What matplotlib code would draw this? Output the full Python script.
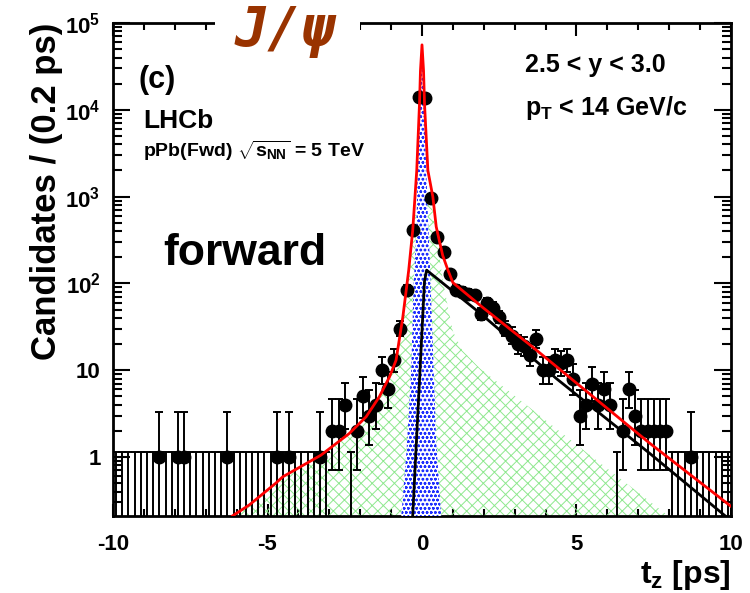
import numpy as np
import matplotlib
matplotlib.use('Agg')
import matplotlib.pyplot as plt
from matplotlib.ticker import FixedLocator, NullFormatter
from matplotlib.patches import Rectangle

plt.rcParams.update({
    'font.family': ['Liberation Sans', 'DejaVu Sans'],
    'font.weight': 'bold',
    'mathtext.fontset': 'custom',
    'mathtext.rm': 'Liberation Sans:bold',
    'mathtext.bf': 'Liberation Sans:bold',
    'mathtext.it': 'Liberation Sans:bold:italic',
    'mathtext.sf': 'Liberation Sans:bold',
    'mathtext.default': 'bf',
    'hatch.linewidth': 0.7,
})

# ---------------- data ----------------
x_range = (-10.0, 10.0)
bin_width = 0.2
counts = ([0, 0, 0, 0, 0, 0, 0, 1, 0, 0, 1, 1, 0, 0, 0, 0, 0, 0, 1, 0,
           0, 0, 0, 0, 0, 0, 1, 0, 1, 0, 0, 0, 0, 1, 0]
          + [2, 2, 4, 0, 2, 5, 3, 4, 10, 6, 13, 30, 85, 410]
          + [14000, 13500, 970, 340, 230, 127, 85, 80, 76, 73, 44, 59, 52,
             41, 30, 25, 20, 19, 15, 23, 10, 10, 13, 12, 13, 8]
          + [3, 4, 7, 4, 6, 4, 0, 2, 6, 3, 2, 2, 2, 2, 2, 0, 0, 0, 1, 0,
             0, 0, 0, 0, 0])

# total fit (red)
red_t = [-6.13, -5.59, -4.73, -4.51, -3.27, -2.35, -1.81, -1.38, -1.05, -0.84,
         -0.62, -0.43, -0.30, -0.17, -0.08, -0.05, 0.0, 0.05, 0.08, 0.19,
         0.35, 0.46, 0.57, 0.67, 0.84, 1.0, 1.96, 3.58, 4.88, 7.37, 10.0]
red_v = [0.21, 0.28, 0.50, 0.59, 1.05, 1.87, 2.9, 4.95, 8.4, 13,
         41, 142, 410, 2000, 12000, 28000, 56000, 28000, 12000, 2000,
         1000, 450, 300, 210, 142, 102, 53, 18.5, 7.7, 1.44, 0.27]
# from-b component (black)
black_t = [-0.30, -0.19, -0.08, 0.08, 0.15, 1.86, 4.35, 7.37, 9.81]
black_v = [0.21, 1.3, 7.7, 105, 142, 46, 8.0, 1.1, 0.21]
# background component (green)
green_t = [-6.13, -5.59, -4.51, -3.27, -2.35, -1.81, -1.38, -1.05, -0.84, -0.62,
           -0.43, -0.30, -0.15, 0.0, 0.15, 0.3, 0.46, 0.57, 0.67, 0.84,
           1.0, 1.3, 1.86, 2.82, 5.1, 8.13]
green_v = [0.21, 0.28, 0.59, 1.05, 1.87, 2.9, 4.95, 8.4, 13, 41,
           140, 380, 900, 1200, 1200, 900, 350, 200, 110, 53,
           28, 17, 10.6, 5.7, 1.3, 0.19]
# prompt component (blue)
blue_t = [-0.67, -0.5, -0.35, -0.27, -0.19, -0.14, -0.08, 0.0, 0.08, 0.14,
          0.19, 0.24, 0.35, 0.46, 0.62]
blue_v = [0.21, 1.2, 10, 100, 340, 2000, 9000, 50000, 9000, 2000,
          600, 240, 20, 1.5, 0.21]

y_min, y_max = 0.209, 1e5
ytick_vals = [1, 10, 1e2, 1e3, 1e4, 1e5]
ytick_labels = ['1', '10', r'$10^{2}$', r'$10^{3}$', r'$10^{4}$', r'$10^{5}$']
xtick_vals = [-10, -5, 0, 5, 10]
xtick_labels = ['-10', '-5', '0', '5', '10']

# ---------------- figure ----------------
fig = plt.figure(figsize=(7.5, 5.93), dpi=100)
ax = fig.add_axes([113 / 750, 1 - 516 / 593, (731 - 113) / 750, (516 - 23) / 593])
ax.set_yscale('log')
ax.set_xlim(*x_range)
ax.set_ylim(y_min, y_max)

n = np.array(counts, dtype=float)
centers = x_range[0] + bin_width / 2 + bin_width * np.arange(len(n))


def poisson_errors(k):
    lo = np.zeros_like(k)
    hi = np.full_like(k, 1.148)
    m = k > 0
    km = k[m]
    lo[m] = km - km * (1 - 1 / (9 * km) - 1 / (3 * np.sqrt(km))) ** 3
    hi[m] = (km + 1) * (1 - 1 / (9 * (km + 1)) + 1 / (3 * np.sqrt(km + 1))) ** 3 - km
    return lo, hi


lo, hi = poisson_errors(n)
nz = n > 0
z = ~nz

# background (green hatch)
ax.fill_between(green_t, 1e-3, green_v, facecolor='none', edgecolor='#8ee88e',
                hatch='xxx', linewidth=0, zorder=2)
# prompt (blue dots)
ax.fill_between(blue_t, 1e-3, blue_v, facecolor='white', edgecolor='#1f2fff',
                hatch='oooo', linewidth=0, zorder=3)

# data: zero bins
yz = np.full(z.sum(), 1e-3)
ax.errorbar(centers[z], yz, yerr=[np.zeros(z.sum()), hi[z] - 1e-3], fmt='none',
            ecolor='k', elinewidth=1.4, capsize=2.6, capthick=1.4, zorder=4)
# data: filled bins
ax.errorbar(centers[nz], n[nz], yerr=[lo[nz], hi[nz]], fmt='o', ms=9,
            mfc='k', mec='k', ecolor='k', elinewidth=1.4, capsize=2.6,
            capthick=1.4, zorder=4)

ax.plot(black_t, black_v, color='k', lw=2.0, zorder=5)
ax.plot(red_t, red_v, color='#ff0000', lw=2.0, zorder=6)

# ---------------- axes styling ----------------
for s in ax.spines.values():
    s.set_linewidth(2)
ax.set_xticks(xtick_vals)
ax.set_xticklabels(xtick_labels)
ax.xaxis.set_minor_locator(FixedLocator([v for v in range(-9, 10) if v % 5]))
ax.set_yticks(ytick_vals)
ax.set_yticklabels(ytick_labels)
ax.yaxis.set_minor_locator(FixedLocator([m * 10.0 ** e for e in range(-1, 5)
                                         for m in range(2, 10)]))
ax.yaxis.set_minor_formatter(NullFormatter())
ax.tick_params(which='both', direction='in', top=True, right=True, width=1.5,
               labelsize=16)
ax.tick_params(axis='x', which='major', length=9, pad=13)
ax.tick_params(axis='x', which='minor', length=5)
ax.tick_params(axis='y', which='major', length=12, pad=9)
ax.tick_params(axis='y', which='minor', length=6.5)
for lab in ax.get_xticklabels() + ax.get_yticklabels():
    lab.set_fontweight('bold')

ax.set_ylabel('Candidates / (0.2 ps)', fontsize=25, fontweight='bold', loc='top')
ax.yaxis.set_label_coords((63 - 113) / 618, 1.0)
ax.set_xlabel(r't$_{z}$ [ps]', fontsize=23, fontweight='bold', loc='right')
ax.xaxis.set_label_coords(1.0, (516 - 558) / 493)


def ftext(px, py, s, **kw):
    fig.text(px / 750, 1 - py / 593, s, **kw)


# white box breaking the top frame behind the title
fig.patches.append(Rectangle((215 / 750, 1 - 46 / 593), 145 / 750, 46 / 593,
                             transform=fig.transFigure, facecolor='white',
                             edgecolor='none', zorder=9))
ftext(285, 31, r'J/ψ', fontsize=40, color='#993300', ha='center', va='center',
      family='DejaVu Sans Mono', fontweight='bold', style='italic', zorder=10)
ftext(138, 88, '(c)', fontsize=22, fontweight='bold', va='baseline')
ftext(143, 128, 'LHCb', fontsize=19, fontweight='bold', va='baseline')
ftext(143, 157, r'pPb(Fwd) $\sqrt{s_{NN}}$ = 5 TeV', fontsize=14,
      fontweight='bold', va='baseline')
ftext(163, 265, 'forward', fontsize=32, fontweight='bold', va='baseline')
ftext(525, 72, '2.5 < y < 3.0', fontsize=18, fontweight='bold', va='baseline')
ftext(525, 115, r'p$_{T}$ < 14 GeV/c', fontsize=18, fontweight='bold',
      va='baseline')

fig.savefig('out.png', dpi=100)
